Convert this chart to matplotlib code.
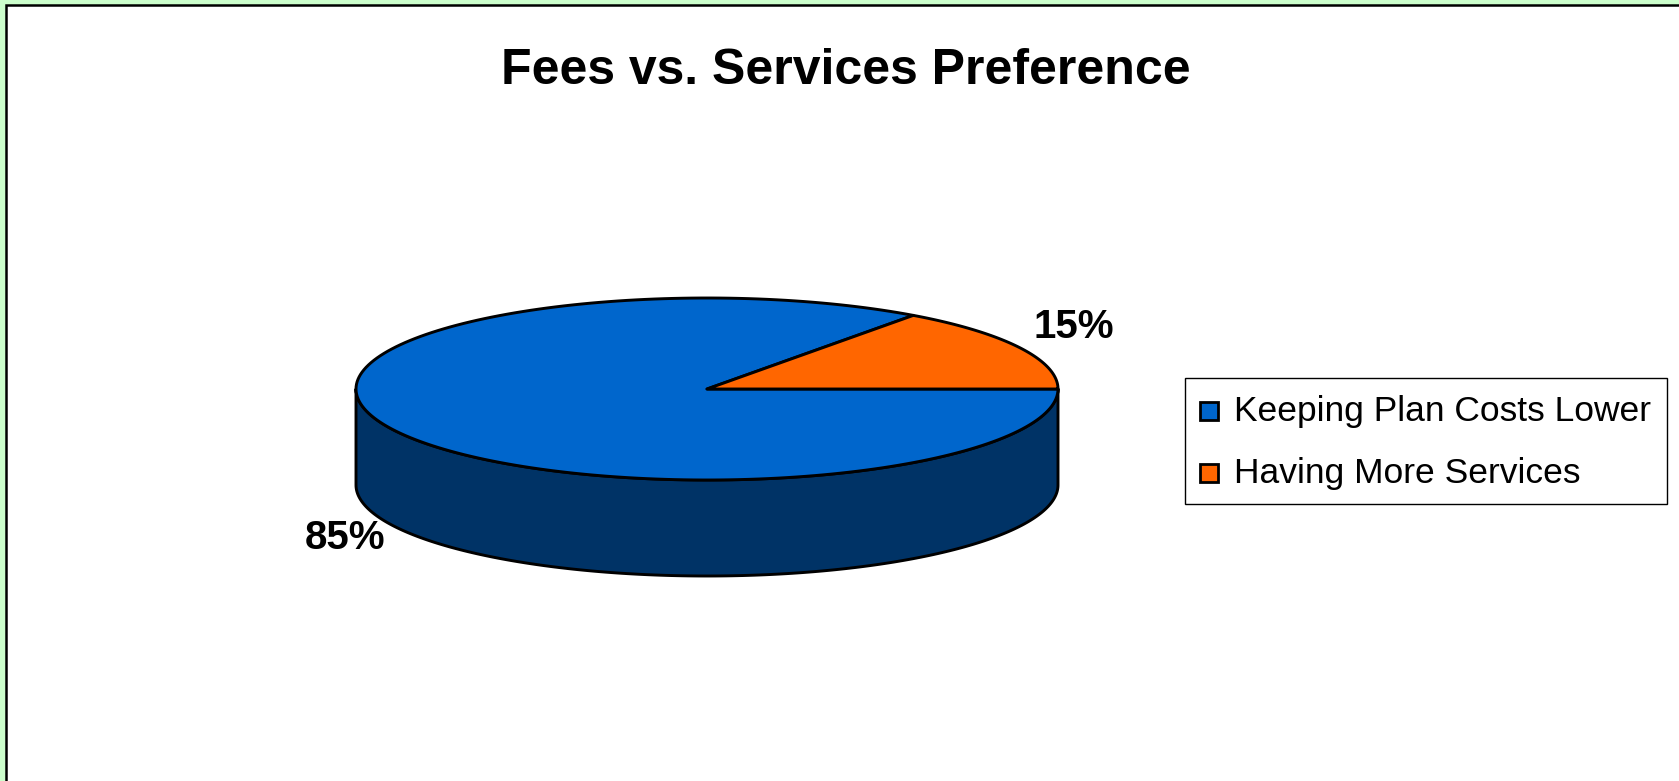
import numpy as np
import matplotlib

matplotlib.use("Agg")
import matplotlib.pyplot as plt
from matplotlib.patches import Polygon, Rectangle

plt.rcParams["font.family"] = ["Liberation Sans", "DejaVu Sans"]

TITLE = "Fees vs. Services Preference"
labels = ["Keeping Plan Costs Lower", "Having More Services"]
shares = [85, 15]
top_colors = ["#0066CC", "#FF6600"]
side_colors = ["#003366", "#993300"]

W, H = 1679, 781
# pie geometry in pixels: centre, semi-axes, depth of the wall
CX, CY, RX, RY, DEPTH = 707, 389, 351, 91, 96
# slices run clockwise from the 3 o'clock position, first slice first
START = 360.0
EDGE_LW = 2.1


def rim(t0, t1, dy=0.0, n=200):
    t = np.radians(np.linspace(t0, t1, n))
    return np.column_stack([CX + RX * np.cos(t), CY + dy - RY * np.sin(t)])


fig = plt.figure(figsize=(W / 100, H / 100), dpi=100, facecolor="#CCFFCC")
ax = fig.add_axes([0, 0, 1, 1])
ax.set_xlim(0, W)
ax.set_ylim(H, 0)
ax.axis("off")

ax.add_patch(Rectangle((5.5, 4.5), W + 20, H + 20, facecolor="white",
                       edgecolor="black", lw=1.8, zorder=0))

fracs = np.array(shares, dtype=float) / sum(shares)
ends = START - 360 * np.cumsum(fracs)
starts = np.concatenate([[START], ends[:-1]])

# front wall: only the part of each slice facing the viewer (180..360 deg)
for a0, a1, col in zip(starts, ends, side_colors):
    lo, hi = a1, a0
    for s0, s1 in [(lo, hi), (lo + 360, hi + 360), (lo - 360, hi - 360)]:
        f0, f1 = max(s0, 180), min(s1, 360)
        if f1 - f0 > 0.01:
            top = rim(f0, f1)
            bot = rim(f1, f0, dy=DEPTH)
            ax.add_patch(Polygon(np.vstack([top, bot]), closed=True,
                                 facecolor=col, edgecolor="black", lw=EDGE_LW,
                                 joinstyle="round", zorder=2))

# top face
for a0, a1, col in zip(starts, ends, top_colors):
    pts = np.vstack([[CX, CY], rim(a0, a1)])
    ax.add_patch(Polygon(pts, closed=True, facecolor=col, edgecolor="black",
                         lw=EDGE_LW, joinstyle="round", zorder=3))

# percentage labels
label_pos = [(345, 538), (1074, 327)]
for (x, y), v in zip(label_pos, shares):
    ax.text(x, y, f"{v}%", fontsize=29, fontweight="bold", ha="center",
            va="center", zorder=5)

ax.text(846, 71, TITLE, fontsize=36, fontweight="bold", ha="center",
        va="center", zorder=5)

# legend
ax.add_patch(Rectangle((1185, 378), 482, 126, facecolor="white",
                       edgecolor="black", lw=1.0, zorder=4))
for i, (lab, col) in enumerate(zip(labels, top_colors)):
    y = 411 + 62 * i
    ax.add_patch(Rectangle((1200, y - 9), 18, 18, facecolor=col,
                           edgecolor="black", lw=2.0, zorder=5))
    ax.text(1234, y, lab, fontsize=25.5, ha="left", va="center", zorder=5)

fig.savefig("out.png", dpi=100, facecolor=fig.get_facecolor())
